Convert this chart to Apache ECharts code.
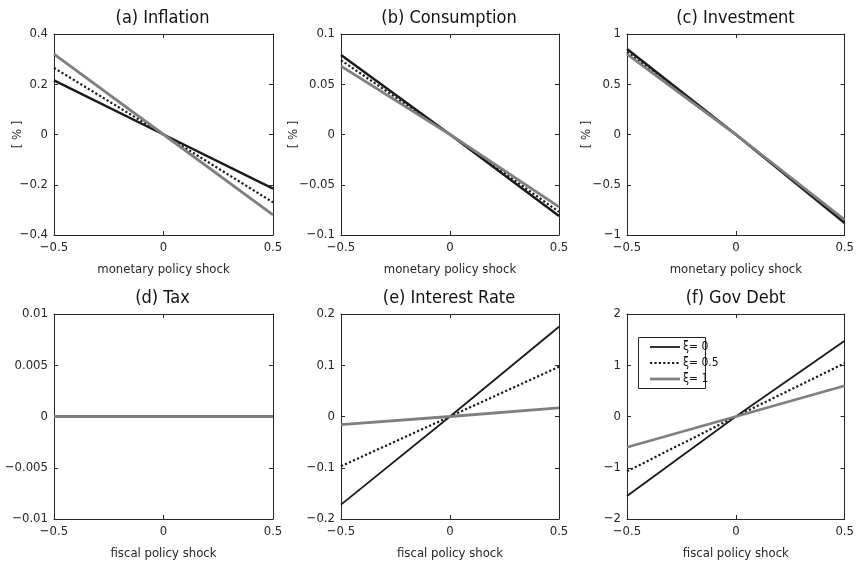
<!DOCTYPE html>
<html><head><meta charset="utf-8">
<script src="https://cdn.jsdelivr.net/npm/echarts@6/dist/echarts.min.js"></script>
<style>html,body{margin:0;padding:0;background:#fff}#c{width:857px;height:566px}</style>
</head><body><div id="c"></div>
<script>
// shock values on the x axis
const shocks = [-0.5, 0, 0.5];
const seriesNames = ['ξ= 0', 'ξ= 0.5', 'ξ= 1'];
const panelTitles = ['(a) Inflation', '(b) Consumption', '(c) Investment', '(d) Tax', '(e) Interest Rate', '(f) Gov Debt'];
const xNames = ['monetary policy shock', 'monetary policy shock', 'monetary policy shock', 'fiscal policy shock', 'fiscal policy shock', 'fiscal policy shock'];
// y ranges per panel: [min, max, interval]
const yMin = [-0.4, -0.1, -1, -0.01, -0.2, -2];
const yMax = [0.4, 0.1, 1, 0.01, 0.2, 2];
const yStep = [0.2, 0.05, 0.5, 0.005, 0.1, 1];
// responses: [xi=0, xi=0.5, xi=1] at shocks -0.5, 0, 0.5
const inflation = [[0.215, 0, -0.215], [0.265, 0, -0.27], [0.32, 0, -0.32]];
const consumption = [[0.079, 0, -0.081], [0.074, 0, -0.077], [0.068, 0, -0.072]];
const investment = [[0.85, 0, -0.88], [0.82, 0, -0.86], [0.80, 0, -0.85]];
const tax = [[0, 0, 0], [0, 0, 0], [0, 0, 0]];
const interest = [[-0.172, 0, 0.175], [-0.097, 0, 0.097], [-0.016, 0, 0.017]];
const debt = [[-1.55, 0, 1.48], [-1.07, 0, 1.04], [-0.6, 0, 0.6]];
const panels = [inflation, consumption, investment, tax, interest, debt];

const font = '"Liberation Sans Narrow", "DejaVu Sans Condensed", "Liberation Sans", Arial, sans-serif';
const axisColor = '#262626';
const lefts = [54, 341, 627];
const widths = [219, 218, 219];
const tops = [34, 314];
const heights = [201, 205];
const yNameGap = [30, 41, 34];
const fmt = v => String(+v.toFixed(4)).replace('-', '\u2212');

const grids = [], xAxes = [], yAxes = [], series = [], titles = [];
let legendStyles = null;
for (let p = 0; p < 6; p++) {
  const col = p % 3, row = Math.floor(p / 3);
  grids.push({left: lefts[col], top: tops[row], width: widths[col], height: heights[row], containLabel: false});
  titles.push({text: panelTitles[p], left: lefts[col] + widths[col] / 2 - 6, top: tops[row] - 30, textAlign: 'center',
    textStyle: {fontFamily: font, fontSize: 18, fontWeight: 'normal', color: '#111'}});
  const baseX = {type: 'value', gridIndex: p, min: -0.5, max: 0.5, interval: 0.5,
    axisLine: {show: true, onZero: false, lineStyle: {color: axisColor, width: 1}},
    axisTick: {show: true, inside: true, length: 4, lineStyle: {color: axisColor}},
    splitLine: {show: false}};
  xAxes.push(Object.assign({}, baseX, {position: 'bottom',
    name: xNames[p], nameLocation: 'middle', nameGap: 28, nameMoveOverlap: false,
    nameTextStyle: {fontFamily: font, fontSize: 13, color: axisColor},
    axisLabel: {fontFamily: font, fontSize: 13, color: axisColor, margin: 6, formatter: fmt}}));
  xAxes.push(Object.assign({}, baseX, {position: 'top', axisLabel: {show: false}}));
  const baseY = {type: 'value', gridIndex: p, min: yMin[p], max: yMax[p], interval: yStep[p],
    axisLine: {show: true, onZero: false, lineStyle: {color: axisColor, width: 1}},
    axisTick: {show: true, inside: true, length: 4, lineStyle: {color: axisColor}},
    splitLine: {show: false}};
  const yl = Object.assign({}, baseY, {position: 'left',
    axisLabel: {fontFamily: font, fontSize: 13, color: axisColor, margin: 6, formatter: fmt}});
  if (row === 0) {
    Object.assign(yl, {name: '[ % ]', nameLocation: 'middle', nameRotate: 90, nameGap: yNameGap[col],
      nameMoveOverlap: false,
      nameTextStyle: {fontFamily: font, fontSize: 13, color: axisColor}});
  }
  yAxes.push(yl);
  yAxes.push(Object.assign({}, baseY, {position: 'right', axisLabel: {show: false}}));
  const data = panels[p];
  const blackW = row === 0 ? 2.5 : 1.8;
  const styles = [
    {color: '#1a1a1a', width: blackW, type: 'solid'},
    {color: '#1a1a1a', width: 2.2, type: [2.2, 2.2]},
    {color: '#7f7f7f', width: 2.8, type: 'solid'}
  ];
  if (p === 5) legendStyles = styles;
  for (let s = 0; s < 3; s++) {
    series.push({name: seriesNames[s], type: 'line', xAxisIndex: 2 * p, yAxisIndex: 2 * p,
      data: shocks.map((x, i) => [x, data[s][i]]), symbol: 'none', animation: false,
      lineStyle: styles[s], itemStyle: {color: styles[s].color}, z: 2 + s});
  }
}

// legend box (panel f), drawn as graphic elements
const legX = 638, legY = 337, legW = 67, legH = 51;
const legend = [{type: 'rect', shape: {x: legX + 0.5, y: legY + 0.5, width: legW, height: legH},
  style: {fill: '#fff', stroke: '#262626', lineWidth: 1}, z: 100}];
seriesNames.forEach((n, i) => {
  const yy = legY + 10 + i * 16;
  const st = legendStyles[i];
  legend.push({type: 'line', shape: {x1: legX + 12, y1: yy, x2: legX + 42, y2: yy},
    style: {stroke: st.color, lineWidth: st.width, lineDash: st.type === 'solid' ? null : st.type}, z: 101});
  legend.push({type: 'text', x: legX + 45, y: yy, style: {text: n, font: '12px ' + font, fill: '#111', textVerticalAlign: 'middle', verticalAlign: 'middle', align: 'left'}, z: 101});
});

const chart = echarts.init(document.getElementById('c'), null, {renderer: 'canvas'});
chart.setOption({
  backgroundColor: '#fff',
  animation: false,
  title: titles,
  grid: grids, xAxis: xAxes, yAxis: yAxes, series: series,
  graphic: legend
});
</script></body></html>
